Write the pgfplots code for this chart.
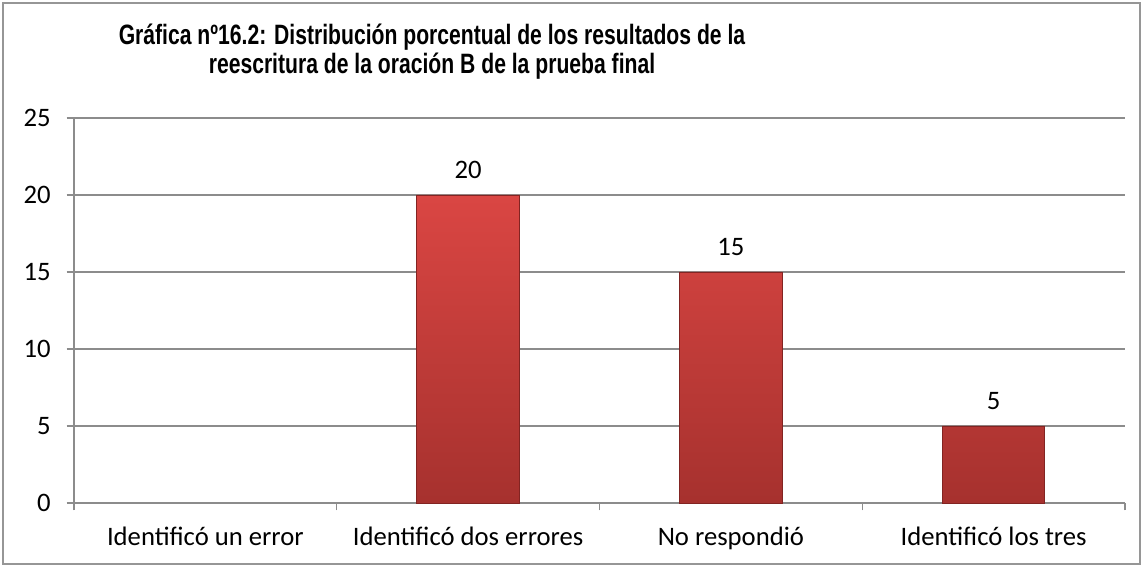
\documentclass[border=0pt]{standalone}
\usepackage{fontspec}
\setmainfont{Carlito}
\newfontfamily\titlefont{Liberation Sans}
\usepackage{graphicx}
\usepackage{pgfplots}
\pgfplotsset{compat=1.18}
\definecolor{GridGray}{RGB}{140,140,140}
\definecolor{BarTop}{RGB}{218,70,67}
\definecolor{BarBot}{RGB}{166,49,46}
\definecolor{BarEdge}{RGB}{130,36,34}
\definecolor{FrameGray}{RGB}{150,150,150}

\begin{document}
\begin{tikzpicture}
  \useasboundingbox (-55.5pt,-48pt) rectangle (801.75pt,377.25pt);
  \draw[FrameGray, line width=1pt] (-53.25pt,-45.75pt) rectangle (799.5pt,375pt);
  \begin{axis}[
    scale only axis,
    width=788.25pt,
    height=288.75pt,
    ymin=0, ymax=25,
    ytick={0,5,10,15,20,25},
    xmin=-0.5, xmax=3.5,
    xtick={0,1,2,3},
    xticklabels={Identificó un error,Identificó dos errores,No respondió,Identificó los tres},
    minor xtick={-0.5,0.5,1.5,2.5,3.5},
    major x tick style={draw=none},
    minor x tick style={draw=GridGray, line width=1pt},
    minor tick length=5.5pt,
    major tick length=5.5pt,
    tick align=outside,
    y tick style={draw=GridGray, line width=1pt},
    ymajorgrids,
    major grid style={draw=GridGray, line width=1pt},
    axis x line*=bottom,
    axis y line*=left,
    axis line style={draw=GridGray, line width=1pt, -},
    tick label style={font=\fontsize{20}{22}\selectfont, text=black},
    /pgf/number format/assume math mode=true,
    xticklabel style={yshift=-9pt},
    yticklabel style={xshift=-8.5pt},
    ybar,
    bar width=0.39,
    nodes near coords,
    nodes near coords style={font=\fontsize{20}{22}\selectfont, anchor=center, yshift=19pt},
    clip=false,
  ]
    % category 0 (Identificó un error) has no bar in the reference
    \addplot[draw=BarEdge, line width=0.6pt, top color=BarTop, bottom color=BarBot] coordinates {
      (1,20) (2,15) (3,5)
    };
  \end{axis}
  \node[font=\titlefont\bfseries\fontsize{21}{21.75}\selectfont, align=center] at (268.5pt,338.25pt)
    {\scalebox{0.755}[1]{Gráfica nº16.2: Distribución porcentual de los resultados de la}\\
     \scalebox{0.755}[1]{reescritura de la oración B de la prueba final}};
\end{tikzpicture}
\end{document}
